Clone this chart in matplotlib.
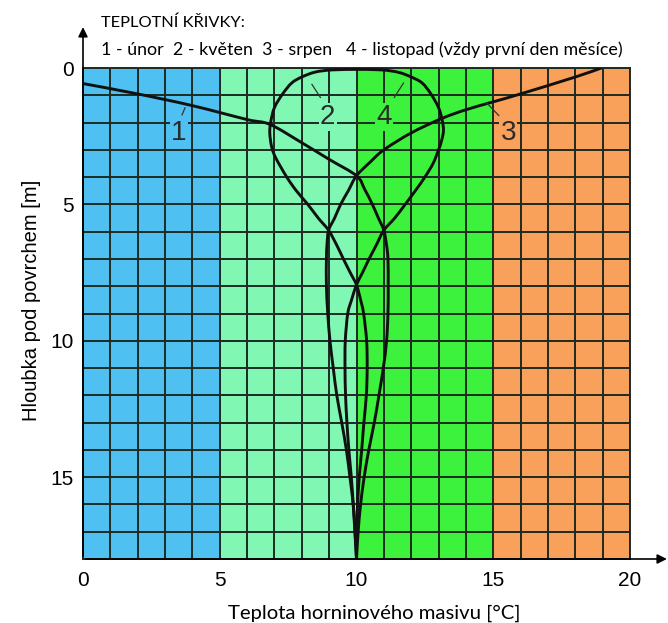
import matplotlib
matplotlib.use("Agg")
import matplotlib.pyplot as plt
from matplotlib.path import Path
from matplotlib.patches import PathPatch
import numpy as np

# temperature bands (°C) and their fills
band_edges = [0, 5, 10, 15, 20]
band_colors = ["#4FC0F2", "#80F7B3", "#3DF23D", "#F9A05A"]

x_ticks = [0, 5, 10, 15, 20]
y_ticks = [0, 5, 10, 15]
depth_max = 18

# curve 1 - únor (February)
feb_t = [0.0, 2.0, 4.0, 6.0, 6.84, 8.0, 9.0, 10.0, 10.3, 10.58, 10.8, 11.0, 11.1,
         11.15, 11.16, 11.15, 11.1, 10.98, 10.82, 10.65, 10.45, 10.28, 10.15, 10.06, 10.0]
feb_d = [0.57, 0.95, 1.38, 1.89, 2.07, 2.74, 3.35, 3.95, 4.45, 5.0, 5.5, 5.95, 6.5,
         7.0, 8.0, 9.0, 10.0, 11.0, 12.0, 13.0, 14.0, 15.0, 16.0, 17.0, 18.0]

# curve 2 - květen (May)
may_t = [10.0, 9.1, 8.49, 8.0, 7.63, 7.3, 7.0, 6.86, 6.83, 6.9, 7.05, 7.45, 7.8,
         8.22, 8.6, 8.98, 9.28, 9.52, 9.77, 10.0, 10.15, 10.26, 10.37, 10.39, 10.36,
         10.27, 10.19, 10.1, 10.04, 10.01, 10.0]
may_d = [0.05, 0.07, 0.15, 0.33, 0.55, 0.95, 1.45, 2.0, 2.4, 2.9, 3.3, 4.0, 4.5,
         5.0, 5.5, 5.95, 6.5, 7.0, 7.5, 7.95, 8.5, 9.0, 10.0, 11.0, 12.0,
         13.0, 14.0, 15.0, 16.0, 17.0, 18.0]

# curve 3 - srpen (August)
aug_t = [18.95, 18.0, 16.0, 15.0, 14.0, 13.12, 12.0, 11.0, 10.5, 10.0, 9.7, 9.42, 9.2,
         8.98, 8.92, 8.9, 8.9, 8.95, 9.03, 9.15, 9.28, 9.46, 9.63, 9.76, 9.88, 9.95, 10.0]
aug_d = [0.0, 0.33, 0.95, 1.24, 1.53, 1.85, 2.38, 3.0, 3.45, 3.95, 4.5, 5.0, 5.5,
         5.95, 6.5, 7.0, 8.0, 9.0, 10.0, 11.0, 12.0, 13.0, 14.0, 15.0, 16.0, 17.0, 18.0]

# curve 4 - listopad (November)
nov_t = [10.0, 10.93, 11.54, 12.0, 12.4, 12.72, 13.0, 13.13, 13.18, 13.1, 13.0, 12.8,
         12.5, 12.15, 11.78, 11.4, 11.0, 10.72, 10.46, 10.22, 10.0, 9.82, 9.68, 9.59,
         9.58, 9.6, 9.65, 9.72, 9.81, 9.88, 9.94, 10.0]
nov_d = [0.05, 0.07, 0.16, 0.33, 0.55, 0.95, 1.45, 1.9, 2.3, 2.7, 3.0, 3.5,
         4.0, 4.5, 5.0, 5.5, 5.95, 6.5, 7.0, 7.5, 7.95, 8.5, 9.0, 10.0,
         11.0, 12.0, 13.0, 14.0, 15.0, 16.0, 17.0, 18.0]

curve_labels = ["1", "2", "3", "4"]
label_t = [3.5, 8.95, 15.55, 11.0]
label_d = [2.4, 1.8, 2.4, 1.8]
leader_from_t = [3.73, 8.37, 14.76, 11.72]
leader_from_d = [1.46, 0.6, 1.28, 0.55]
leader_to_t = [3.62, 8.68, 15.2, 11.38]
leader_to_d = [1.72, 1.08, 1.74, 1.08]


def smooth_path(xs, ys):
    """Catmull-Rom curve through the points, written as cubic Bezier segments."""
    p = np.column_stack([xs, ys]).astype(float)
    ext = np.vstack([p[0], p, p[-1]])
    verts = [p[0]]
    codes = [Path.MOVETO]
    for i in range(1, len(ext) - 2):
        p0, p1, p2, p3 = ext[i - 1], ext[i], ext[i + 1], ext[i + 2]
        verts += [p1 + (p2 - p0) / 6.0, p2 - (p3 - p1) / 6.0, p2]
        codes += [Path.CURVE4] * 3
    return Path(verts, codes)


fig = plt.figure(figsize=(6.68, 6.23), dpi=100)
ax = fig.add_axes([83 / 668, 1 - 559 / 623, 547 / 668, 491 / 623])

for i in range(len(band_colors)):
    ax.axvspan(band_edges[i], band_edges[i + 1], color=band_colors[i], lw=0, zorder=0)

ax.set_xlim(0, 20)
ax.set_ylim(depth_max, 0)
ax.set_xticks(x_ticks)
ax.set_yticks(y_ticks)
ax.set_xticks(range(0, 21), minor=True)
ax.set_yticks(range(0, depth_max + 1), minor=True)
ax.grid(which="both", color="#1E2A22", lw=1.4, zorder=1)
ax.set_axisbelow(False)
ax.tick_params(which="both", length=0)
ax.tick_params(axis="y", pad=6.5)
ax.tick_params(axis="x", pad=9)
for lab in ax.get_xticklabels() + ax.get_yticklabels():
    lab.set_fontfamily("Liberation Sans")
    lab.set_fontsize(15)
for s in ax.spines.values():
    s.set_color("#1E2A22")
    s.set_linewidth(1.4)

for ts, ds in [(feb_t, feb_d), (may_t, may_d), (aug_t, aug_d), (nov_t, nov_d)]:
    ax.add_patch(PathPatch(smooth_path(ts, ds), fill=False, edgecolor="#111111",
                           lw=2.1, capstyle="round", joinstyle="round", zorder=3))

for k in range(4):
    ax.plot([leader_from_t[k], leader_to_t[k]], [leader_from_d[k], leader_to_d[k]],
            color="#333333", lw=0.9, zorder=3)
    band = band_colors[min(int(label_t[k] // 5), 3)]
    ax.text(label_t[k], label_d[k], curve_labels[k], fontsize=20, color="#2A2A2A",
            fontfamily="Liberation Sans", ha="center", va="center", zorder=4,
            bbox=dict(boxstyle="square,pad=0.05", fc=band, ec="none"))

# axis arrows
ax.annotate("", xy=(21.45, 18), xytext=(0, 18), annotation_clip=False,
            arrowprops=dict(arrowstyle="-|>", color="black", lw=1.2, mutation_scale=14))
ax.annotate("", xy=(0, -1.6), xytext=(0, 18), annotation_clip=False,
            arrowprops=dict(arrowstyle="-|>", color="black", lw=1.2, mutation_scale=14))

ax.set_xlabel("Teplota horninového masivu [°C]", fontfamily="Lato", fontsize=14.6,
              va="baseline")
ax.xaxis.set_label_coords(0.532, -0.1222)
ax.set_ylabel("Hloubka pod povrchem [m]", fontfamily="Liberation Sans", fontsize=14.5,
              va="center")
ax.yaxis.set_label_coords(-0.095, 0.527)

fig.text(101 / 668, 1 - 23 / 623, "TEPLOTNÍ KŘIVKY:", fontfamily="Lato",
         fontsize=11.8, va="center", ha="left")
fig.text(101 / 668, 1 - 50 / 623,
         "1 - únor  2 - květen  3 - srpen   4 - listopad (vždy první den měsíce)",
         fontfamily="Lato", fontsize=12.9, va="center", ha="left")

fig.savefig("out.png", dpi=100)
